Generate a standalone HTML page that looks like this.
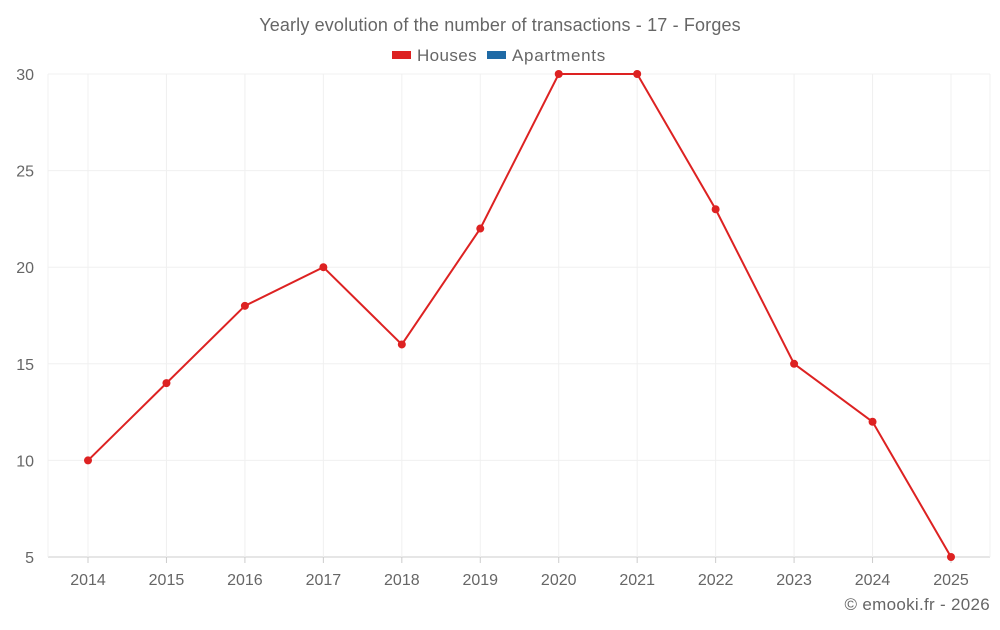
<!DOCTYPE html>
<html><head><meta charset="utf-8"><style>
body{margin:0;background:#fff;width:1000px;height:625px;overflow:hidden;font-family:"Liberation Sans",sans-serif}
svg text{font-family:"Liberation Sans",sans-serif;fill:#666}
</style></head><body>
<svg id="chart" width="1000" height="625">
<text x="500" y="31" text-anchor="middle" font-size="18" letter-spacing="0.15">Yearly evolution of the number of transactions - 17 - Forges</text>
<g>
<g><rect x="392" y="51" width="19" height="8" fill="#dd2222"/><text x="417" y="61" font-size="17" letter-spacing="0.4">Houses</text></g>
<g><rect x="487" y="51" width="19" height="8" fill="#1f6aa5"/><text x="512" y="61" font-size="17" letter-spacing="0.7">Apartments</text></g>
</g>
<g id="grid"></g>
<g id="axes"></g>
<g id="series"></g>
<text x="990" y="610" text-anchor="end" font-size="17" letter-spacing="0.3">© emooki.fr - 2026</text>
</svg>
<script>
const years=["2014","2015","2016","2017","2018","2019","2020","2021","2022","2023","2024","2025"];
const houses=[10,14,18,20,16,22,30,30,23,15,12,5];
const yTicks=[5,10,15,20,25,30];
const L=48,R=990,T=74,B=557,yMin=5,yMax=30;
const ns="http://www.w3.org/2000/svg";
function x(i){return 88+i*(951-88)/(years.length-1);}
function y(v){return B-(v-yMin)/(yMax-yMin)*(B-T);}
function mk(t,a,p){const e=document.createElementNS(ns,t);for(const k in a)e.setAttribute(k,a[k]);p.appendChild(e);return e;}
const g=document.getElementById('grid'),ax=document.getElementById('axes'),s=document.getElementById('series');
yTicks.forEach(v=>{
 const l=mk('line',{x1:L,x2:R,y1:y(v),y2:y(v),stroke:v===yMin?'#ccc':'#f0f0f0'},g);
 
 
 const t=mk('text',{x:34,y:y(v)+6,'text-anchor':'end','font-size':16},ax);t.textContent=v;
 
 
});
mk('line',{x1:L,x2:L,y1:T,y2:B,stroke:'#f0f0f0'},g);
mk('line',{x1:R,x2:R,y1:T,y2:B,stroke:'#f0f0f0'},g);
years.forEach((yr,i)=>{
 const l=mk('line',{x1:x(i),x2:x(i),y1:T,y2:B,stroke:'#f0f0f0'},g);
 
 
 mk('line',{x1:x(i),x2:x(i),y1:B,y2:B+6,stroke:'#ccc'},ax);
 const t=mk('text',{x:x(i),y:585,'text-anchor':'middle','font-size':16},ax);t.textContent=yr;
 
 
});
const pl=mk('polyline',{points:houses.map((v,i)=>x(i)+','+y(v)).join(' '),fill:'none',stroke:'#dd2222','stroke-width':2},s);


houses.forEach((v,i)=>{
 const c=mk('circle',{cx:x(i),cy:y(v),r:4,fill:'#dd2222'},s);
 
 
});
</script>
</body></html>
